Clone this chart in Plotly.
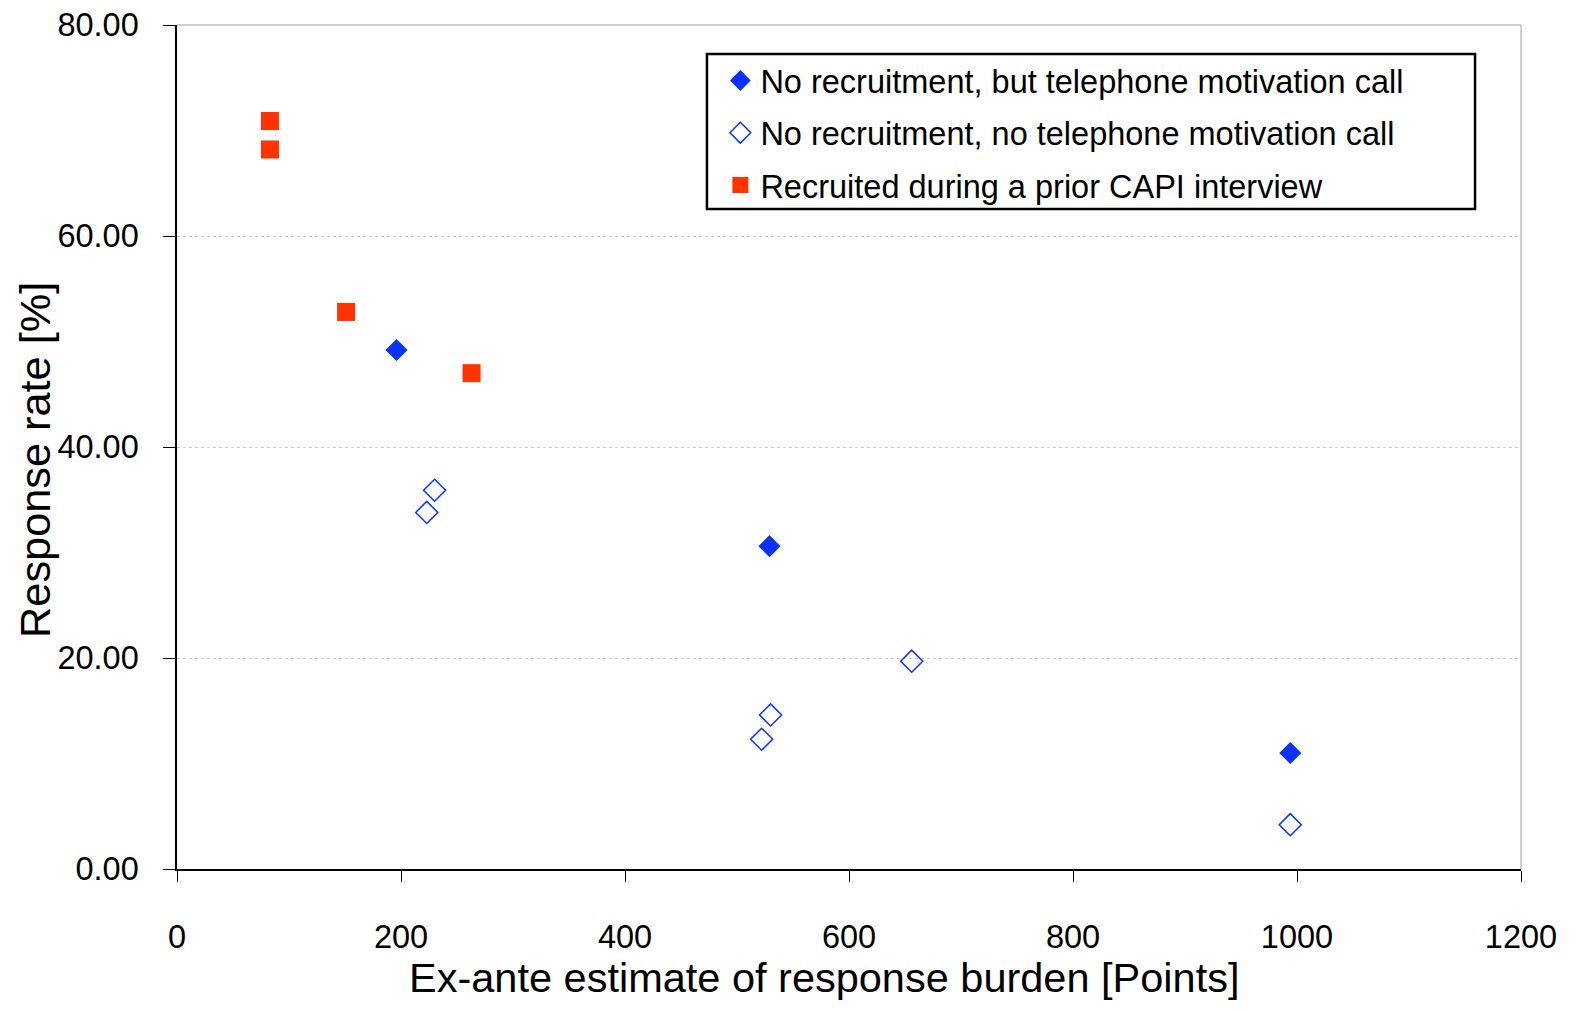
import plotly.graph_objects as go

# Data
call_x = [196, 529, 994]
call_y = [49.2, 30.6, 11.0]

nocall_x = [223, 230, 522, 530, 656, 994]
nocall_y = [33.8, 35.9, 12.3, 14.6, 19.7, 4.2]

capi_x = [83, 83, 151, 263]
capi_y = [70.9, 68.2, 52.8, 47.0]

names = ["No recruitment, but telephone motivation call",
         "No recruitment, no telephone motivation call",
         "Recruited during a prior CAPI interview"]

x_ticks = [0, 200, 400, 600, 800, 1000, 1200]
y_ticks = [0, 20, 40, 60, 80]

BLUE = "#0A32FF"
RED = "#FF3300"
FONT = "Liberation Sans, Arial, sans-serif"

fig = go.Figure()
fig.add_trace(go.Scatter(x=call_x, y=call_y, mode="markers", name=names[0],
                         legendgroup="a",
                         marker=dict(symbol="diamond", size=17, color=BLUE,
                                     line=dict(width=0))))
fig.add_trace(go.Scatter(x=nocall_x, y=nocall_y, mode="markers", name=names[1],
                         legendgroup="b",
                         marker=dict(symbol="diamond-open", size=17, color=BLUE,
                                     line=dict(width=1.5, color=BLUE))))
fig.add_trace(go.Scatter(x=capi_x, y=capi_y, mode="markers", name=names[2],
                         legendgroup="c",
                         marker=dict(symbol="square", size=18, color=RED,
                                     line=dict(width=0))))

fig.update_layout(
    width=1572, height=996,
    margin=dict(l=169, r=59, t=17, b=135),
    paper_bgcolor="white", plot_bgcolor="white",
    font=dict(family=FONT, color="black"),
    showlegend=True,
    legend=dict(x=0.4043, y=0.967, xanchor="left", yanchor="top",
                bgcolor="rgba(0,0,0,0)", borderwidth=0,
                font=dict(size=32.5, family=FONT, color="black"),
                itemwidth=30, tracegroupgap=7, traceorder="grouped"),
    xaxis=dict(range=[0, 1200], tickvals=x_ticks, ticktext=[str(v) for v in x_ticks],
               showgrid=False, zeroline=False, showline=True, linecolor="black",
               linewidth=1.5, ticks="outside", ticklen=11, tickcolor="black",
               ticklabelstandoff=27, ticklabeloverflow="allow",
               tickfont=dict(size=32.5, family=FONT), automargin=False),
    yaxis=dict(range=[0, 80], tickvals=y_ticks, ticktext=["%.2f" % v for v in y_ticks],
               showgrid=True, gridcolor="#C8C8C8", griddash="dot", gridwidth=1,
               zeroline=False, showline=True, linecolor="black",
               linewidth=1.5, ticks="outside", ticklen=12, tickcolor="black",
               ticklabelstandoff=18, ticklabeloverflow="allow",
               tickfont=dict(size=32.5, family=FONT), automargin=False),
    annotations=[
        dict(text="Ex-ante estimate of response burden [Points]", xref="paper", yref="paper",
             x=0.4814, y=-0.129, xanchor="center", yanchor="middle", showarrow=False,
             font=dict(size=41.5, family=FONT, color="black")),
        dict(text="Response rate [%]", xref="paper", yref="paper",
             x=-0.1057, y=0.4846, xanchor="center", yanchor="middle", showarrow=False,
             textangle=-90, font=dict(size=43.3, family=FONT, color="black")),
    ],
)

# gray top and right border of the plot area
fig.add_shape(type="line", xref="paper", yref="paper", x0=0, x1=1, y0=1, y1=1,
              line=dict(color="#A0A0A0", width=1))
fig.add_shape(type="line", xref="paper", yref="paper", x0=1, x1=1, y0=0, y1=1,
              line=dict(color="#A0A0A0", width=1))
# legend frame
fig.add_shape(type="rect", xref="paper", yref="paper",
              x0=0.3943, x1=0.9658, y0=0.782, y1=0.9656,
              line=dict(color="black", width=2.5), fillcolor="rgba(0,0,0,0)")

fig.write_html("out.html")
